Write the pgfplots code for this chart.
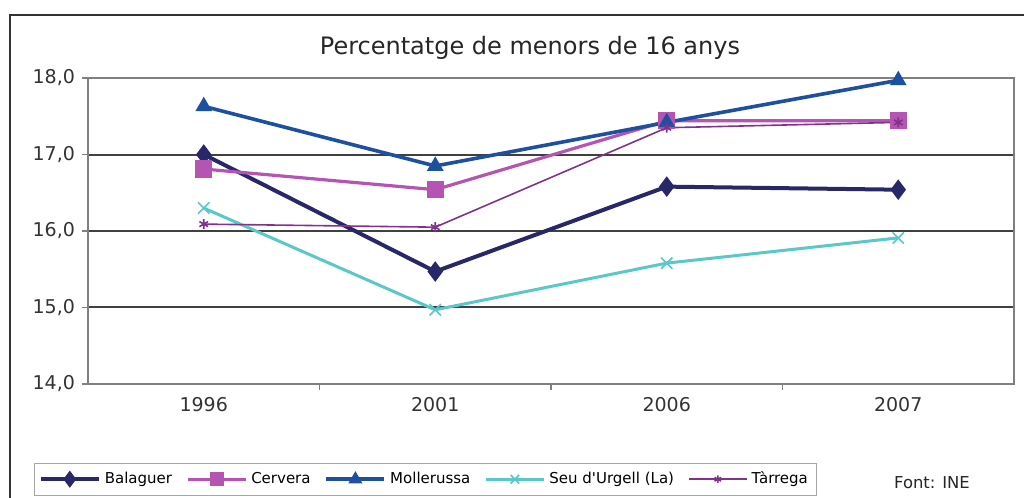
\documentclass[border=0pt]{standalone}
\usepackage{fontspec}
\setmainfont{DejaVu Sans}[Ligatures=TeXOff]
\usepackage{pgfplots}
\pgfplotsset{compat=1.18}
\definecolor{cBal}{RGB}{40,40,105}
\definecolor{cCer}{RGB}{180,85,180}
\definecolor{cMol}{RGB}{30,80,160}
\definecolor{cSeu}{RGB}{90,200,200}
\definecolor{cTar}{RGB}{130,50,140}
\begin{document}
\begin{tikzpicture}[x=1pt,y=1pt]
\path[use as bounding box] (0,0) rectangle (512,249);
\draw[line width=1pt, color=black!80] (5,0) -- (5,241.5) -- (512,241.5);
\begin{axis}[
  at={(44pt,57pt)}, anchor=south west, scale only axis,
  width=463pt, height=153pt,
  xmin=-0.5, xmax=3.5, ymin=14, ymax=18,
  axis line style={draw=black!50, line width=0.7pt},
  ytick={14,15,16,17,18},
  ymajorgrids, major grid style={color=black!75, line width=1pt},
  xtick={0.5,1.5,2.5}, xticklabels={},
  extra x ticks={0,1,2,3}, extra x tick labels={1996,2001,2006,2007},
  extra x tick style={major tick length=0pt, tick style={draw=none}},
  tick align=outside, tick pos=left, major tick length=3pt,
  tick style={draw=black!50, line width=0.6pt},
  /pgf/number format/assume math mode=true,
  yticklabel style={/pgf/number format/.cd, fixed, fixed zerofill, precision=1, use comma},
  ticklabel style={font=\fontsize{9.5}{11}\selectfont, color=black!80},
  xticklabel style={yshift=-3pt},
  legend columns=5,
  legend style={at={(-0.0583,-0.258)}, anchor=north west, draw=black!35,
    font=\fontsize{7.5}{9}\selectfont, inner sep=2.2pt,
    /tikz/every even column/.append style={column sep=5pt}},
  legend image code/.code={\draw[mark repeat=2,mark phase=2, every mark/.append style={scale=0.75}] plot coordinates {(0pt,0pt) (14.5pt,0pt) (29pt,0pt)};},
]
\addplot[color=cBal, line width=2pt, mark=diamond*, mark size=3.5pt, mark options={solid}] coordinates {(0,17.0)(1,15.47)(2,16.58)(3,16.54)};
\addlegendentry{Balaguer}
\addplot[color=cCer, line width=1.6pt, mark=square*, mark size=3.5pt, mark options={solid}] coordinates {(0,16.81)(1,16.54)(2,17.44)(3,17.44)};
\addlegendentry{Cervera}
\addplot[color=cMol, line width=1.8pt, mark=triangle*, mark size=3pt, mark options={solid}] coordinates {(0,17.63)(1,16.85)(2,17.42)(3,17.97)};
\addlegendentry{Mollerussa}
\addplot[color=cSeu, line width=1.5pt, mark=x, mark size=4pt, mark options={solid, line width=0.8pt}] coordinates {(0,16.30)(1,14.97)(2,15.58)(3,15.91)};
\addlegendentry{Seu d'Urgell (La)}
\addplot[color=cTar, line width=0.8pt, mark=asterisk, mark size=2.5pt, mark options={solid}] coordinates {(0,16.09)(1,16.05)(2,17.35)(3,17.42)};
\addlegendentry{Tàrrega}
\end{axis}
\node[font=\fontsize{12}{14}\selectfont, color=black!85] at (265,225) {Percentatge de menors de 16 anys};
\node[font=\fontsize{8.2}{10}\selectfont, color=black!85] at (466,7.5) {Font: INE};
\end{tikzpicture}
\end{document}
